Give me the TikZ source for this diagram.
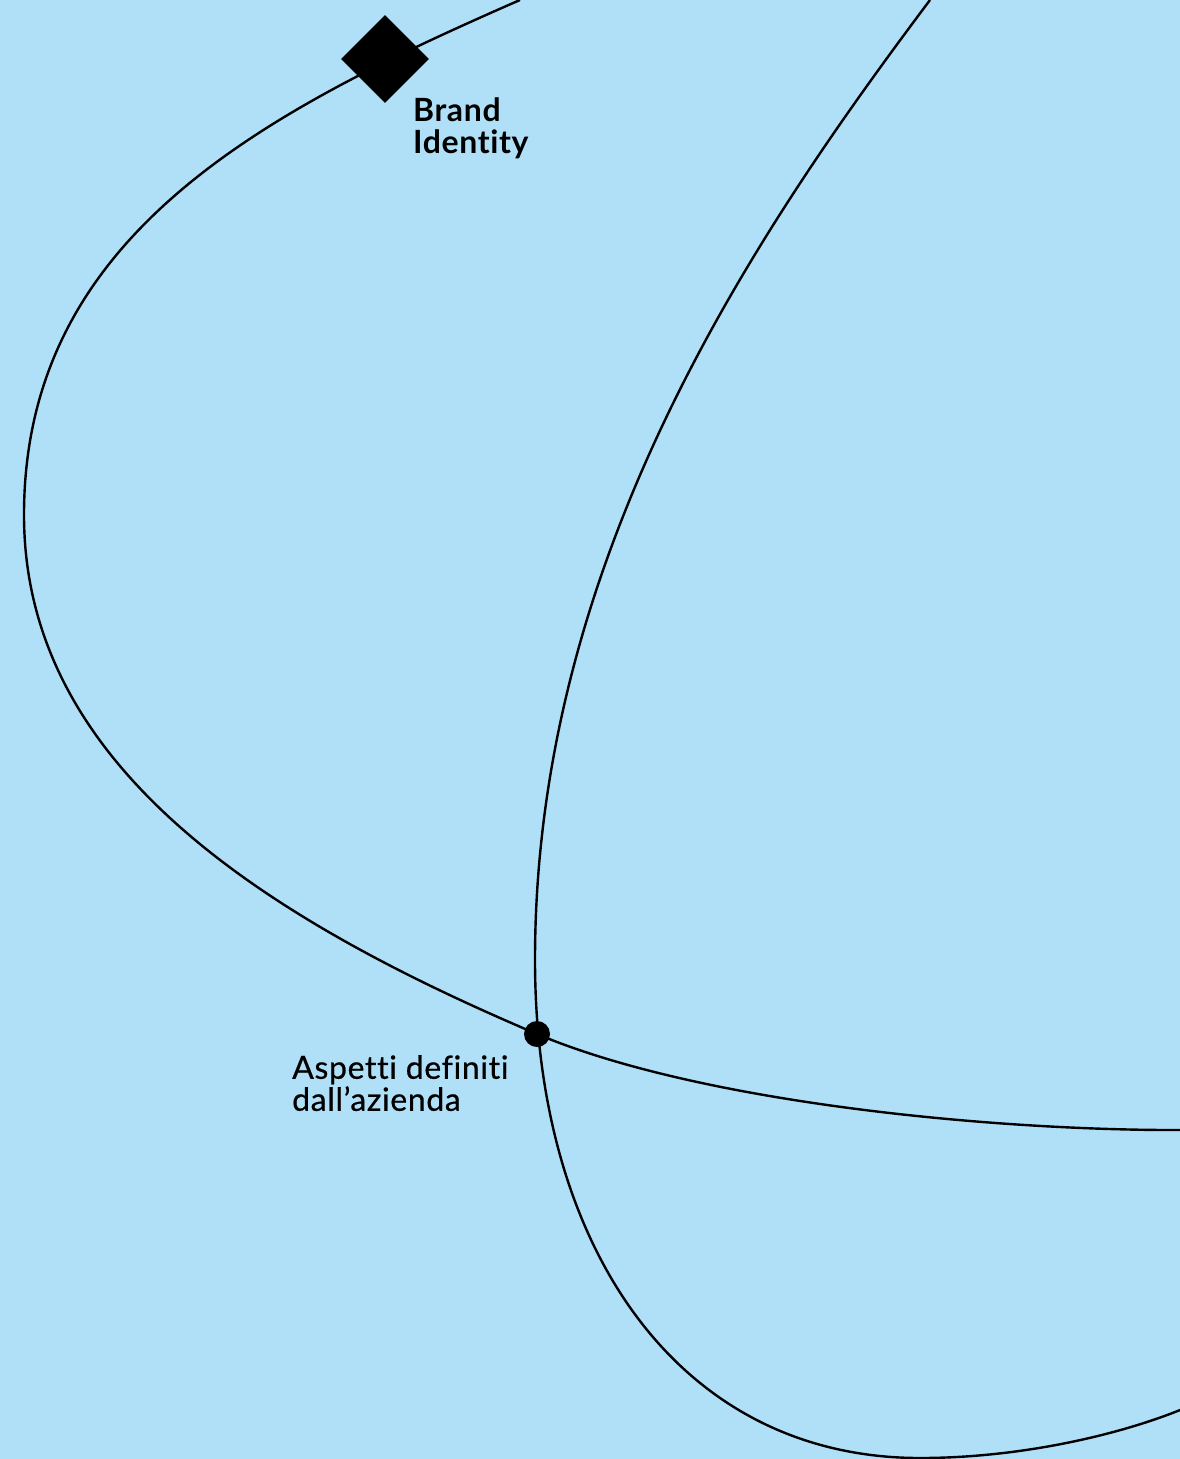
\documentclass[tikz,border=0pt]{standalone}
\usepackage{fontspec}
\setmainfont{Lato}[Ligatures=NoCommon,LetterSpace=2]
\newfontfamily\medfont{Lato}[Ligatures=NoCommon,LetterSpace=2,FakeBold=0.6]
\usepackage{tikz}
\usetikzlibrary{positioning}
\definecolor{skyblue}{RGB}{176,223,248}
\tikzset{
  orbit/.style={line width=2.4pt,black},
  markbox/.style={rectangle,fill=black,rotate=45,minimum size=62pt,inner sep=0pt},
  markdot/.style={circle,fill=black,minimum size=26pt,inner sep=0pt},
  lab/.style={anchor=north west,inner sep=0pt,align=left,font=\fontsize{32}{32}\selectfont}
}
\begin{document}
\begin{tikzpicture}[x=1pt,y=-1pt]
  \fill[skyblue] (0,0) rectangle (1180,1459);
  \useasboundingbox (0,0) rectangle (1180,1459);
  \begin{scope}
    \clip (0,0) rectangle (1180,1459);
    % outer loop
    \draw[orbit] (520,0) .. controls (264,112) and (24,235) .. (24,515)
      .. controls (24,765) and (261,917) .. (537,1034)
      .. controls (703,1104) and (1000,1131) .. (1185,1130);
    % inner loop
    \draw[orbit] (930,0) .. controls (750,240) and (535,560) .. (535,960)
      .. controls (535,1250) and (680,1458) .. (920,1458)
      .. controls (1020,1458) and (1120,1435) .. (1185,1408);
  \end{scope}
  \node[markbox] (brand) at (385,59) {};
  \node[markdot] (azienda) at (537,1034) {};
  \node[lab,font=\fontsize{32}{32}\selectfont\bfseries] (brandlab) at (413,98) {Brand\\Identity};
  \node[lab,font=\fontsize{32}{32}\selectfont\medfont] (aziendalab) at (292,1055) {Aspetti definiti\\dall’azienda};
\end{tikzpicture}
\end{document}
